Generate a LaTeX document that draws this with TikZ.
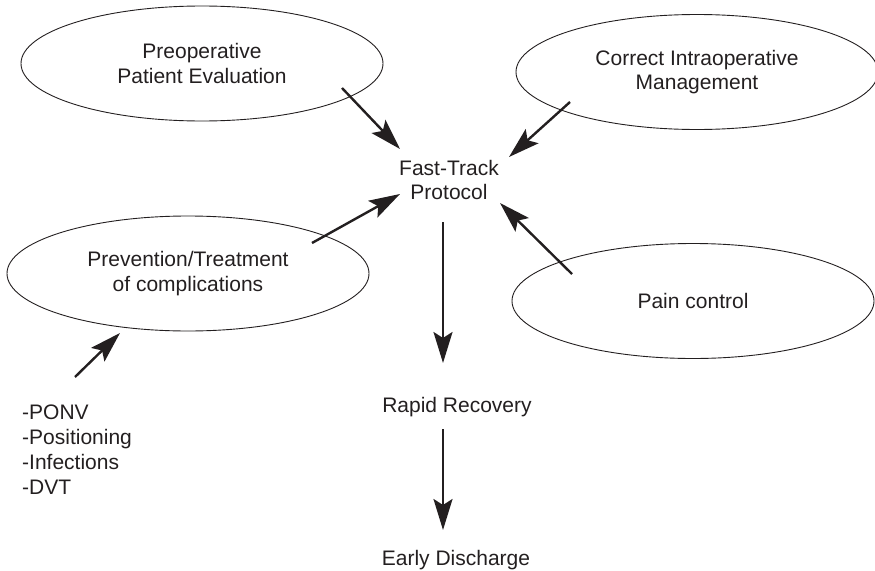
\documentclass[tikz,border=0pt]{standalone}
\usepackage{fontspec}
\setmainfont{Liberation Sans}
\usetikzlibrary{shapes.geometric,arrows.meta}
\definecolor{ink}{HTML}{231F20}
\tikzset{
  oval/.style={ellipse, draw=ink, line width=0.9pt, minimum width=362pt, minimum height=115pt, inner sep=0pt, align=center, text=ink},
  lbl/.style={inner sep=0pt, text=ink},
  flow/.style={draw=ink, line width=2.4pt, -{Stealth[length=31pt, width=19pt, inset=6pt]}}
}
\begin{document}
\begin{tikzpicture}[x=1pt,y=-1pt, font=\fontsize{21}{24.5}\selectfont]
\useasboundingbox (0,0) rectangle (875,570);
\node[oval] (pre) at (202,63.5) {Preoperative\\Patient Evaluation};
\node[oval] (cim) at (697,72) {Correct Intraoperative\\Management};
\node[oval] (prev) at (188,273.5) {Prevention/Treatment\\of complications};
\node[oval] (pain) at (693,301) {Pain control};
\node[lbl, align=center, anchor=north] (ft) at (449,160) {Fast-Track\\Protocol};
\node[lbl, anchor=base] (rr) at (457,412) {Rapid Recovery};
\node[lbl, anchor=base] (ed) at (456,565) {Early Discharge};
\node[lbl, align=left, anchor=north west, font=\fontsize{21}{25}\selectfont] (lst) at (22,404.5) {-PONV\\-Positioning\\-Infections\\-DVT};
% connector end points
\coordinate (preS) at (342,88);   \coordinate (preT) at (400,149);
\coordinate (cimS) at (570,102);  \coordinate (cimT) at (509,157);
\coordinate (prevS) at (312,243); \coordinate (prevT) at (400,194);
\coordinate (painS) at (572,274); \coordinate (painT) at (500,203);
\coordinate (ftS) at (443,222);   \coordinate (rrT) at (443,363);
\coordinate (rrS) at (443,429);   \coordinate (edT) at (443,530);
\coordinate (lstS) at (75,377);   \coordinate (lstT) at (120,333);
\draw[flow] (preS) -- (preT);
\draw[flow] (cimS) -- (cimT);
\draw[flow] (prevS) -- (prevT);
\draw[flow] (painS) -- (painT);
\draw[flow] (ftS) -- (rrT);
\draw[flow] (rrS) -- (edT);
\draw[flow] (lstS) -- (lstT);
\end{tikzpicture}
\end{document}
